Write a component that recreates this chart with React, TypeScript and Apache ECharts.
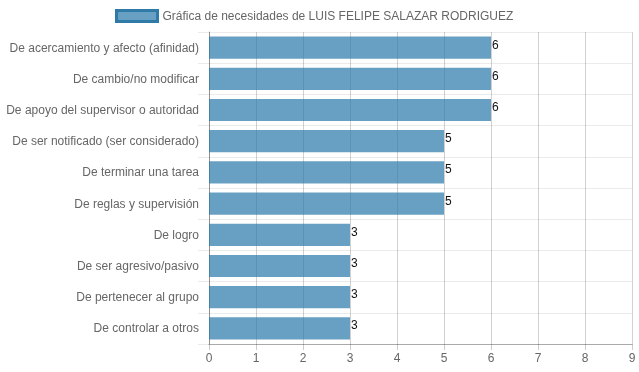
import React, { useEffect, useRef } from "react";
import * as echarts from "echarts";

const categories = [
  "De acercamiento y afecto (afinidad)",
  "De cambio/no modificar",
  "De apoyo del supervisor o autoridad",
  "De ser notificado (ser considerado)",
  "De terminar una tarea",
  "De reglas y supervisión",
  "De logro",
  "De ser agresivo/pasivo",
  "De pertenecer al grupo",
  "De controlar a otros",
];
const values = [6, 6, 6, 5, 5, 5, 3, 3, 3, 3];
const seriesName = "Gráfica de necesidades de LUIS FELIPE SALAZAR RODRIGUEZ";
const font = "'Liberation Sans', Arial, Helvetica, sans-serif";

export default function App() {
  const ref = useRef<HTMLDivElement>(null);
  useEffect(() => {
    if (!ref.current) return;
    const chart = echarts.init(ref.current, null, { renderer: "svg" });
    chart.setOption({
      animation: false,
      textStyle: { fontFamily: font },
      legend: {
        top: 4,
        left: 110,
        icon: "rect",
        itemWidth: 41,
        itemHeight: 11,
        itemGap: 10,
        textStyle: { color: "#666", fontSize: 12, fontFamily: font },
        itemStyle: { borderColor: "#2f7aa6", borderWidth: 3 },
        data: [seriesName],
      },
      grid: { left: 209, right: 7, top: 32, bottom: 28, containLabel: false },
      xAxis: {
        type: "value",
        min: 0,
        max: 9,
        interval: 1,
        axisLine: { show: true, lineStyle: { color: "#aaa" } },
        axisTick: { show: true, length: 6, lineStyle: { color: "rgba(0,0,0,0.2)" } },
        axisLabel: { color: "#666", fontSize: 12, margin: 8, fontFamily: font, showMaxLabel: true },
        splitLine: { show: true, lineStyle: { color: "rgba(0,0,0,0.18)" } },
      },
      yAxis: {
        type: "category",
        inverse: true,
        data: categories,
        axisLine: { show: true, lineStyle: { color: "rgba(0,0,0,0.3)" } },
        axisTick: { show: true, length: 11, lineStyle: { color: "rgba(0,0,0,0.08)" } },
        axisLabel: { color: "#666", fontSize: 12, margin: 10, fontFamily: font },
        splitLine: { show: true, lineStyle: { color: "rgba(0,0,0,0.08)" } },
      },
      series: [
        {
          name: seriesName,
          type: "bar",
          data: values,
          barCategoryGap: "29%",
          itemStyle: { color: "rgba(40,120,170,0.7)" },
          label: {
            show: true,
            position: "right",
            distance: 1,
            offset: [0, -3],
            color: "#111",
            fontSize: 12,
            fontFamily: font,
          },
        },
      ],
    });
    return () => chart.dispose();
  }, []);
  return (
    <div
      ref={ref}
      style={{ position: "fixed", left: 0, top: 0, width: 639, height: 372 }}
    />
  );
}
